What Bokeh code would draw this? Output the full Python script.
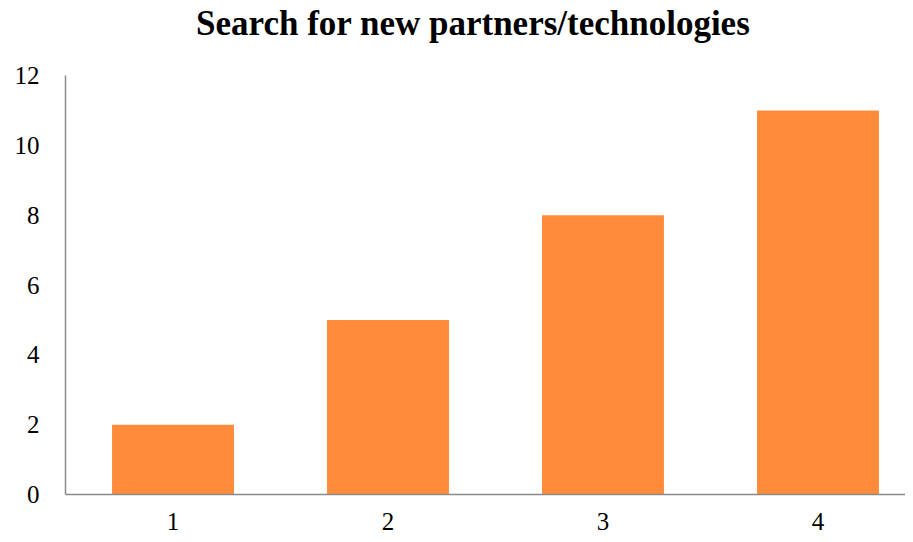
from bokeh.plotting import figure
from bokeh.models import FixedTicker, Range1d, Div
from bokeh.layouts import column
from bokeh.embed import file_html
from bokeh.resources import INLINE

categories = [1, 2, 3, 4]
values = [2, 5, 8, 11]
y_ticks = [0, 2, 4, 6, 8, 10, 12]
title_text = "Search for new partners/technologies"

title = Div(text=title_text, width=905, height=47, margin=(0, 0, 0, 0),
            styles={"font-family": "'Liberation Serif'", "font-size": "35px",
                    "font-weight": "bold", "line-height": "47px", "color": "#000000",
                    "padding-left": "196px", "white-space": "nowrap"})

p = figure(width=905, height=487, output_backend="svg", toolbar_location=None,
           x_range=Range1d(0.5, 4.407), y_range=Range1d(0, 12),
           min_border_left=65, min_border_right=0, min_border_top=28, min_border_bottom=40)
p.outline_line_color = None
p.xgrid.visible = False
p.ygrid.visible = False

p.vbar(x=categories, top=values, width=0.567, color="#FF8B3B", line_color=None)

for ax in (p.xaxis, p.yaxis):
    ax.axis_line_color = "#8A8A8A"
    ax.axis_line_width = 1.5
    ax.major_tick_line_color = None
    ax.minor_tick_line_color = None
    ax.major_tick_out = 0
    ax.major_tick_in = 0
    ax.major_label_text_font = "Liberation Serif"
    ax.major_label_text_font_size = "25px"
    ax.major_label_text_color = "#000000"

p.xaxis.ticker = FixedTicker(ticks=categories)
p.yaxis.ticker = FixedTicker(ticks=y_ticks)
p.xaxis.major_label_standoff = 18
p.yaxis.major_label_standoff = 26

layout = column(title, p, spacing=0)
open("out.html", "w").write(file_html(layout, INLINE))
